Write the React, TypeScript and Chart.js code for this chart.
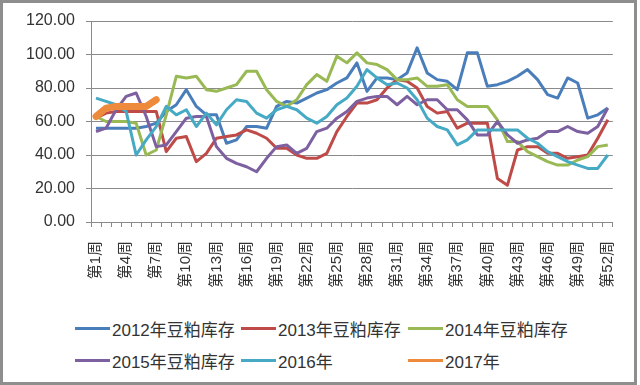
import React, { useEffect, useRef } from "react";
import { Chart, registerables } from "chart.js";

Chart.register(...registerables);

const weeks = [
  "第1周", "第2周", "第3周", "第4周", "第5周", "第6周", "第7周", "第8周", "第9周", "第10周",
  "第11周", "第12周", "第13周", "第14周", "第15周", "第16周", "第17周", "第18周", "第19周", "第20周",
  "第21周", "第22周", "第23周", "第24周", "第25周", "第26周", "第27周", "第28周", "第29周", "第30周",
  "第31周", "第32周", "第33周", "第34周", "第35周", "第36周", "第37周", "第38周", "第39周", "第40周",
  "第41周", "第42周", "第43周", "第44周", "第45周", "第46周", "第47周", "第48周", "第49周", "第50周",
  "第51周", "第52周",
];

const stock2012 = [
  56, 56, 56, 56, 56, 57, 59, 66, 70, 79,
  69, 64, 64, 47, 49, 57, 57, 56, 69, 72,
  71, 74, 77, 79, 83, 86, 95, 78, 86, 86,
  85, 89, 104, 89, 85, 84, 79, 101, 101, 81,
  82, 84, 87, 91, 85, 76, 74, 86, 83, 62,
  64, 68,
];
const stock2013 = [
  62, 65, 66, 66, 66, 66, 66, 42, 50, 51,
  36, 41, 50, 51, 52, 55, 53, 50, 44, 44,
  40, 38, 38, 41, 54, 63, 71, 71, 73, 80,
  85, 84, 80, 69, 65, 66, 56, 59, 59, 59,
  26, 22, 43, 45, 45, 41, 41, 38, 39, 40,
  50, 61,
];
const stock2014 = [
  63, 60, 60, 60, 59, 40, 43, 64, 87, 86,
  87, 79, 78, 80, 82, 90, 90, 79, 72, 69,
  73, 82, 88, 84, 99, 95, 101, 95, 94, 91,
  85, 85, 86, 81, 81, 82, 73, 69, 69, 69,
  61, 48, 48, 42, 39, 36, 34, 34, 37, 39,
  45, 46,
];
const stock2015 = [
  54, 56, 67, 75, 77, 63, 45, 46, 54, 62,
  63, 63, 45, 38, 35, 33, 30, 38, 45, 46,
  41, 44, 54, 56, 62, 66, 72, 74, 75, 75,
  70, 75, 70, 73, 73, 67, 67, 61, 52, 52,
  60, 52, 47, 49, 50, 54, 54, 57, 54, 53,
  57, 68,
];
const stock2016 = [
  74, 72, 70, 66, 40, 49, 57, 69, 64, 67,
  57, 65, 58, 67, 73, 72, 65, 62, 67, 69,
  67, 62, 59, 63, 70, 74, 81, 91, 86, 82,
  83, 80, 73, 62, 57, 55, 46, 49, 55, 55,
  55, 55, 55, 50, 47, 42, 39, 36, 34, 32,
  32, 40,
];
const stock2017 = [63, 68, 69, 69, 69, 69, 73];

const seriesNames = [
  "2012年豆粕库存",
  "2013年豆粕库存",
  "2014年豆粕库存",
  "2015年豆粕库存",
  "2016年",
  "2017年",
];
const seriesData = [stock2012, stock2013, stock2014, stock2015, stock2016, stock2017];
const seriesColors = ["#4A7EBB", "#BE4B48", "#98B954", "#7D60A0", "#46AAC5", "#EE8A3C"];
const seriesWidths = [3, 3, 3, 3, 3, 7];

const yMin = 0;
const yMax = 120;
const yStep = 20;

const FONT = '"Liberation Sans", "Noto Sans CJK SC", sans-serif';
const GRID = "#8a8a8a";
const TEXT = "#333333";

// legend grid: [column x, row center y]
const legendSlots = [
  [75, 328],
  [241, 328],
  [408, 328],
  [75, 360],
  [241, 360],
  [408, 360],
];

export default function App() {
  const ref = useRef<HTMLCanvasElement | null>(null);

  useEffect(() => {
    document.body.style.margin = "0";
    const canvas = ref.current;
    if (!canvas) return;
    const chart = new Chart(canvas, {
      type: "line",
      data: {
        labels: weeks,
        datasets: seriesData.map((d, i) => ({
          label: seriesNames[i],
          data: d,
          borderColor: seriesColors[i],
          backgroundColor: seriesColors[i],
          borderWidth: seriesWidths[i],
          pointRadius: 0,
          pointHoverRadius: 0,
          tension: 0,
          fill: false,
          order: seriesData.length - 1 - i,
          borderCapStyle: i === 5 ? "round" : "butt",
          borderJoinStyle: "round",
        })),
      },
      options: {
        responsive: false,
        animation: false,
        events: [],
        layout: { padding: { top: 21, right: 20, bottom: 8, left: 0 } },
        plugins: {
          legend: { display: false },
          tooltip: { enabled: false },
          title: { display: false },
        },
        scales: {
          x: {
            type: "category",
            offset: true,
            afterFit: (scale: any) => {
              scale.height = 70;
            },
            grid: {
              display: true,
              offset: true,
              drawOnChartArea: false,
              drawTicks: true,
              tickLength: 5,
              color: GRID,
            },
            border: { display: true, color: GRID, width: 1 },
            ticks: {
              autoSkip: false,
              maxRotation: 90,
              minRotation: 90,
              padding: 14,
              color: TEXT,
              font: { family: FONT, size: 15 },
              callback: (_v: any, idx: number) => (idx % 3 === 0 ? weeks[idx] : ""),
            },
          },
          y: {
            min: yMin,
            max: yMax,
            afterFit: (scale: any) => {
              scale.width = 91;
            },
            grid: {
              color: GRID,
              lineWidth: 1,
              tickLength: 5,
              drawTicks: true,
            },
            border: { display: true, color: GRID, width: 1 },
            ticks: {
              stepSize: yStep,
              padding: 11,
              color: TEXT,
              font: { family: FONT, size: 16 },
              callback: (v: any) => Number(v).toFixed(2),
            },
          },
        },
      },
    });
    return () => chart.destroy();
  }, []);

  return (
    <div style={{ position: "relative", width: 640, height: 385, background: "#ffffff", overflow: "hidden" }}>
      <canvas ref={ref} width={640} height={300} style={{ position: "absolute", left: 0, top: 0, width: 640, height: 300 }} />
      {seriesNames.map((name, i) => (
        <div
          key={name}
          style={{
            position: "absolute",
            left: legendSlots[i][0],
            top: legendSlots[i][1] - 12,
            height: 24,
            display: "flex",
            alignItems: "center",
            whiteSpace: "nowrap",
            fontFamily: FONT,
            fontSize: 17,
            color: TEXT,
          }}
        >
          <span style={{ display: "inline-block", width: 35, height: 3, background: seriesColors[i], marginRight: 2 }} />
          <span>{name}</span>
        </div>
      ))}
      <div
        style={{
          position: "absolute",
          left: 0,
          top: 0,
          width: 637,
          height: 385,
          border: "3px solid #8e8e8e",
          boxSizing: "border-box",
          pointerEvents: "none",
        }}
      />
    </div>
  );
}
